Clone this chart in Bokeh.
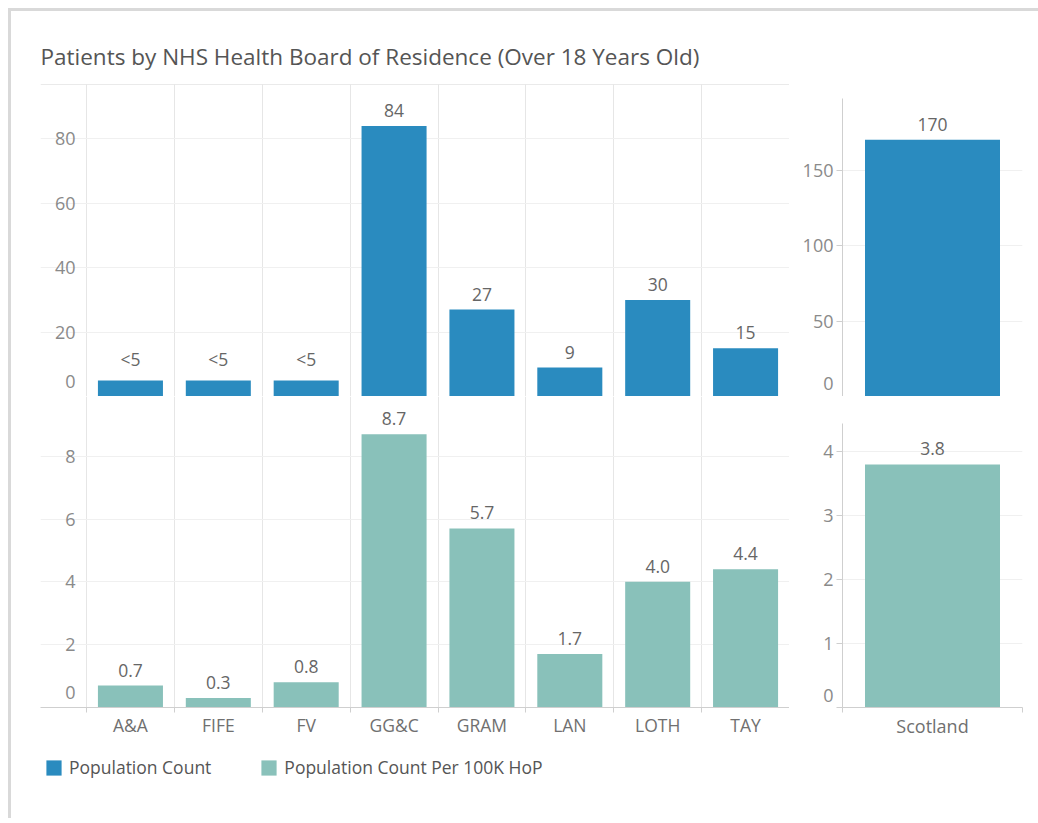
from bokeh.plotting import figure
from bokeh.models import Range1d, FixedTicker, Span, ColumnDataSource, LabelSet, Legend, LegendItem
from bokeh.layouts import column, row
from bokeh.embed import file_html
from bokeh.resources import INLINE
from bokeh.core.properties import value

# ---------------- data ----------------
title_text = "Patients by NHS Health Board of Residence (Over 18 Years Old)"
boards = ["A&A", "FIFE", "FV", "GG&C", "GRAM", "LAN", "LOTH", "TAY"]
count_values = [5, 5, 5, 84, 27, 9, 30, 15]
count_labels = ["<5", "<5", "<5", "84", "27", "9", "30", "15"]
rate_values = [0.7, 0.3, 0.8, 8.7, 5.7, 1.7, 4.0, 4.4]
rate_labels = ["0.7", "0.3", "0.8", "8.7", "5.7", "1.7", "4.0", "4.4"]
scotland = ["Scotland"]
scotland_count = [170]
scotland_count_labels = ["170"]
scotland_rate = [3.8]
scotland_rate_labels = ["3.8"]
count_ticks = [0, 20, 40, 60, 80]
rate_ticks = [0, 2, 4, 6, 8]
scot_count_ticks = [0, 50, 100, 150]
scot_rate_ticks = [0, 1, 2, 3, 4]
series_names = ["Population Count", "Population Count Per 100K HoP"]

# ---------------- style ----------------
BLUE = "#2a8bbf"
TEAL = "#89c1ba"
FONT = "Open Sans"
GRID = "#f0f0f0"
DIVIDER = "#e6e6e6"
EDGE = "#cfcfcf"
TICK_COLOR = "#8a8a8a"
VALUE_COLOR = "#666666"
TITLE_COLOR = "#555555"
VALUE_SIZE = "17.5px"


def lifted(ticks, y_end, frame_h, lift_px):
    """Tableau keeps the '0' label inside the pane: lift it a few pixels."""
    lift = round(lift_px * y_end / frame_h, 3)
    return [lift] + ticks[1:], {lift: "0"}


def board_fig(values, labels, ticks, y_end, frame_h, color, top, bottom, height, x_axis):
    p = figure(width=778, height=height,
               x_range=Range1d(-1.0235, len(boards) - 0.5), y_range=Range1d(0, y_end),
               output_backend="svg", toolbar_location=None,
               min_border_left=29, min_border_right=0, min_border_top=top, min_border_bottom=bottom,
               x_axis_location="below" if x_axis else None, outline_line_color=None)
    xs = list(range(len(boards)))
    src = ColumnDataSource(dict(x=xs, top=values, label=labels))
    r = p.vbar(x="x", top="top", width=0.74, source=src, fill_color=color, line_color=None)
    p.add_layout(LabelSet(x="x", y="top", text="label", source=src, y_offset=9,
                          text_align="center", text_baseline="bottom",
                          text_font=value(FONT), text_font_size=VALUE_SIZE, text_color=VALUE_COLOR))
    xt = FixedTicker(ticks=xs, minor_ticks=[i - 0.5 for i in range(len(boards) + 1)])
    p.xgrid.ticker = xt
    p.xgrid.grid_line_color = None
    p.xgrid.minor_grid_line_color = DIVIDER
    yt, ov = lifted(ticks, y_end, frame_h, 15)
    p.ygrid.ticker = FixedTicker(ticks=ticks[1:])
    p.ygrid.grid_line_color = GRID
    ax = p.yaxis[0]
    ax.ticker = FixedTicker(ticks=yt)
    ax.major_label_overrides = ov
    ax.axis_line_color = None
    ax.major_tick_line_color = None
    ax.minor_tick_line_color = None
    ax.major_tick_out = 0
    ax.major_tick_in = 0
    ax.minor_tick_out = 0
    ax.minor_tick_in = 0
    ax.major_label_standoff = -35
    ax.major_label_text_font = FONT
    ax.major_label_text_font_size = "18px"
    ax.major_label_text_color = TICK_COLOR
    p.add_layout(Span(location=len(boards) - 0.5, dimension="height", line_color=EDGE, line_width=1))
    if x_axis:
        xa = p.xaxis[0]
        xa.ticker = xt
        xa.major_label_overrides = {i: b for i, b in enumerate(boards)}
        xa.axis_line_color = EDGE
        xa.major_tick_line_color = None
        xa.minor_tick_line_color = EDGE
        xa.minor_tick_in = 0
        xa.minor_tick_out = 5
        xa.major_tick_out = 0
        xa.major_tick_in = 0
        xa.major_label_standoff = 0
        xa.major_label_text_font = FONT
        xa.major_label_text_font_size = "17.5px"
        xa.major_label_text_color = "#707070"
    return p, src


def scot_fig(values, labels, ticks, y_end, frame_h, color, top, bottom, height, right, lift_px, x_axis):
    p = figure(width=249, height=height, x_range=Range1d(-0.5, 0.5), y_range=Range1d(0, y_end),
               output_backend="svg", toolbar_location=None,
               min_border_left=53, min_border_right=right, min_border_top=top, min_border_bottom=bottom,
               x_axis_location="below" if x_axis else None, outline_line_color=None)
    src = ColumnDataSource(dict(x=[0], top=values, label=labels))
    p.vbar(x="x", top="top", width=0.75, source=src, fill_color=color, line_color=None)
    p.add_layout(LabelSet(x="x", y="top", text="label", source=src, y_offset=9,
                          text_align="center", text_baseline="bottom",
                          text_font=value(FONT), text_font_size=VALUE_SIZE, text_color=VALUE_COLOR))
    xt = FixedTicker(ticks=[0], minor_ticks=[-0.5, 0.5])
    p.xgrid.ticker = xt
    p.xgrid.grid_line_color = None
    p.ygrid.ticker = FixedTicker(ticks=ticks[1:])
    p.ygrid.grid_line_color = GRID
    yt, ov = lifted(ticks, y_end, frame_h, lift_px)
    ax = p.yaxis[0]
    ax.ticker = FixedTicker(ticks=yt, minor_ticks=ticks)
    ax.major_label_overrides = ov
    ax.axis_line_color = EDGE
    ax.major_tick_in = 0
    ax.major_tick_out = 0
    ax.major_tick_line_color = None
    ax.minor_tick_in = 0
    ax.minor_tick_out = 6
    ax.minor_tick_line_color = EDGE
    ax.major_label_standoff = 3
    ax.major_label_text_font = FONT
    ax.major_label_text_font_size = "18px"
    ax.major_label_text_color = TICK_COLOR
    if x_axis:
        xa = p.xaxis[0]
        xa.ticker = xt
        xa.major_label_overrides = {0: scotland[0]}
        xa.axis_line_color = EDGE
        xa.major_tick_line_color = None
        xa.major_tick_in = 0
        xa.major_tick_out = 0
        xa.minor_tick_line_color = EDGE
        xa.minor_tick_in = 0
        xa.minor_tick_out = 5
        xa.major_label_standoff = 1
        xa.major_label_text_font = FONT
        xa.major_label_text_font_size = "18px"
        xa.major_label_text_color = "#707070"
    else:
        p.add_layout(Span(location=0, dimension="width", line_color=EDGE, line_width=1))
    return p


# top-left: counts by board
p_tl, count_src = board_fig(count_values, count_labels, count_ticks, 96.9, 312, BLUE,
                            top=73, bottom=0, height=385, x_axis=False)
p_tl.add_layout(Span(location=96.9, dimension="width", line_color="#d6d6d6", line_width=1))
p_tl.add_layout(Span(location=0, dimension="width", line_color=EDGE, line_width=1))
p_tl.title.text = title_text
p_tl.title.text_font = FONT
p_tl.title.text_font_size = "22.5px"
p_tl.title.text_font_style = "normal"
p_tl.title.text_color = TITLE_COLOR
p_tl.title.align = "left"
p_tl.title.standoff = 25

# bottom-left: rate by board
p_bl, rate_src = board_fig(rate_values, rate_labels, rate_ticks, 9.9, 311, TEAL,
                           top=0, bottom=33, height=344, x_axis=True)

# legend strip (hidden copies of the two series supply the legend swatches)
p_leg = figure(width=778, height=78, x_range=Range1d(-1, 8), y_range=Range1d(0, 100),
               output_backend="svg", toolbar_location=None,
               min_border_left=0, min_border_right=0, min_border_top=0, min_border_bottom=0,
               x_axis_location=None, y_axis_location=None, outline_line_color=None)
p_leg.xgrid.visible = False
p_leg.ygrid.visible = False
leg_blue = p_leg.vbar(x="x", top="top", source=ColumnDataSource(dict(x=list(range(len(boards))), top=count_values)),
                      width=0.5, fill_color=BLUE, line_color=None, visible=False)
leg_teal = p_leg.vbar(x="x", top="top", source=ColumnDataSource(dict(x=list(range(len(boards))), top=rate_values)),
                      width=0.5, fill_color=TEAL, line_color=None, visible=False)
legend = Legend(items=[LegendItem(label=series_names[0], renderers=[leg_blue]),
                       LegendItem(label=series_names[1], renderers=[leg_teal])],
                orientation="horizontal", location=(4, 39), margin=0, padding=5,
                spacing=48, glyph_width=19, glyph_height=19, label_standoff=6,
                label_text_font=FONT, label_text_font_size="17.5px", label_text_color="#555555",
                border_line_color=None, background_fill_alpha=0,
                inactive_fill_alpha=0)
p_leg.add_layout(legend, "center")

# right: Scotland
p_tr = scot_fig(scotland_count, scotland_count_labels, scot_count_ticks, 197.4, 298, BLUE,
                top=87, bottom=0, height=385, right=16, lift_px=13, x_axis=False)
p_br = scot_fig(scotland_rate, scotland_rate_labels, scot_rate_ticks, 4.44, 284, TEAL,
                top=27, bottom=33, height=344, right=9, lift_px=12, x_axis=True)

layout = row(column(p_tl, p_bl, p_leg), column(p_tr, p_br))
outer = column(layout, styles={"margin-left": "8px", "margin-top": "8px",
                               "border-top": "3px solid #d9d9d9", "border-left": "3px solid #d9d9d9"})

open("out.html", "w").write(file_html(outer, INLINE))
